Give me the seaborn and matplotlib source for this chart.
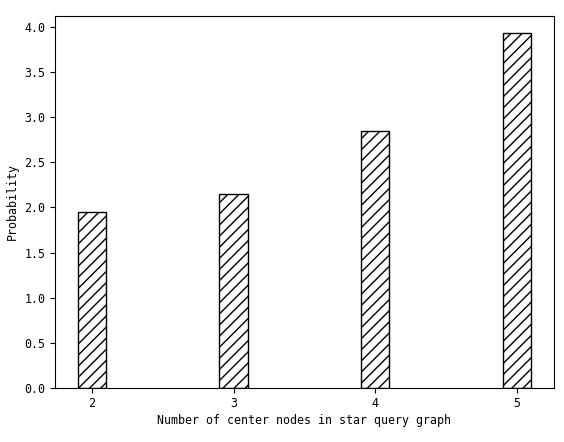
import matplotlib
matplotlib.use("Agg")
import matplotlib.pyplot as plt
import seaborn as sns
import pandas as pd

# === Data
center_nodes = [2, 3, 4, 5]
probability = [1.95, 2.15, 2.85, 3.93]

df = pd.DataFrame({"nodes": center_nodes, "prob": probability})

plt.rcParams["font.family"] = ["DejaVu Sans Mono"]
plt.rcParams["font.size"] = 8.4
plt.rcParams["hatch.linewidth"] = 1.0

fig, ax = plt.subplots(figsize=(5.64, 4.42), dpi=100)
sns.barplot(data=df, x="nodes", y="prob", native_scale=True, width=0.2,
            color="white", edgecolor="black", hatch="///", linewidth=1.0,
            saturation=1, ax=ax)

ax.set_xticks(center_nodes)
ax.set_xticklabels([str(n) for n in center_nodes])
ax.set_xlim(1.74, 5.26)
ax.set_ylim(0, 4.12)
ax.set_yticks([i * 0.5 for i in range(9)])
ax.set_xlabel("Number of center nodes in star query graph", labelpad=3)
ax.set_ylabel("Probability")
ax.tick_params(axis="x", pad=3)
for s in ax.spines.values():
    s.set_color("black")

fig.subplots_adjust(left=0.0975, right=0.982, top=0.964, bottom=0.122)
fig.savefig("out.png", dpi=100)
